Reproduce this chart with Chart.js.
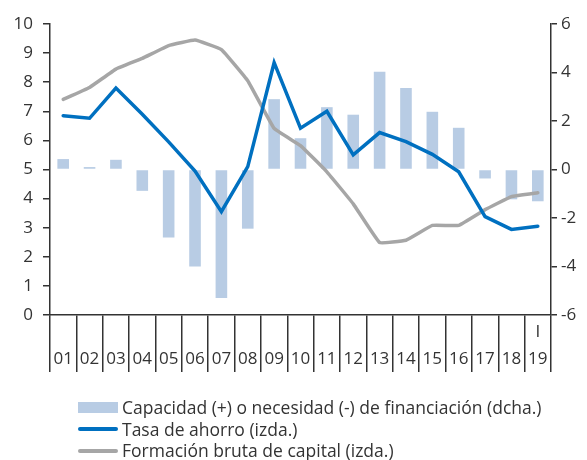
<!DOCTYPE html>
<html>
<head>
<meta charset="utf-8">
<script src="https://cdn.jsdelivr.net/npm/chart.js@4"></script>
<style>
  body { margin: 0; background: #fff; }
  #wrap { position: relative; width: 587px; height: 460px; }
  #legend { position: absolute; left: 78px; top: 397px; font-family: "Open Sans"; font-size: 17.5px; color: #333; }
  .row { height: 21.5px; line-height: 21.5px; display: flex; align-items: center; white-space: nowrap; }
  .sym { width: 40px; margin-right: 4px; }
  .box { height: 11px; background: rgb(184, 204, 228); }
  .line { height: 4px; border-radius: 2px; }
</style>
</head>
<body>
<div id="wrap">
  <canvas id="myChart" width="587" height="460"></canvas>
  <div id="legend"></div>
</div>
<script>
const years = ['01', '02', '03', '04', '05', '06', '07', '08', '09', '10',
               '11', '12', '13', '14', '15', '16', '17', '18', '19'];
const quarterLabel = 'I';

// dcha.
const capacidad = [0.43, 0.1, 0.4, -0.88, -2.8, -4.0, -5.3, -2.44, 2.9, 1.29,
                   2.57, 2.26, 4.03, 3.36, 2.38, 1.72, -0.37, -1.23, -1.31];
// izda.
const ahorro = [6.85, 6.76, 7.8, 6.9, 5.95, 4.95, 3.55, 5.1, 8.67, 6.42,
                7.0, 5.5, 6.27, 5.96, 5.52, 4.92, 3.38, 2.94, 3.05];
const formacion = [7.41, 7.82, 8.45, 8.82, 9.26, 9.45, 9.12, 8.05, 6.41, 5.82,
                   4.92, 3.82, 2.49, 2.57, 3.08, 3.08, 3.62, 4.07, 4.2];

const names = ['Capacidad (+) o necesidad (-) de financiación (dcha.)',
               'Tasa de ahorro (izda.)',
               'Formación bruta de capital (izda.)'];

const colors = {
    bar: 'rgb(184, 204, 228)',
    ahorro: 'rgb(0, 112, 192)',
    formacion: 'rgb(166, 166, 166)',
    axis: '#333'
};

const labels = years.map((y, i) => i === years.length - 1 ? [quarterLabel, y] : ['', y]);

const tickFont = { family: 'Open Sans', size: 17 };

function createChart() {
    const ctx = document.getElementById('myChart');

    const data = {
        labels: labels,
        datasets: [
            {
                type: 'line',
                label: names[1],
                data: ahorro,
                borderColor: colors.ahorro,
                borderWidth: 3.5,
                borderCapStyle: 'round',
                pointRadius: 0,
                tension: 0,
                yAxisID: 'y',
                order: 1
            },
            {
                type: 'line',
                label: names[2],
                data: formacion,
                borderColor: colors.formacion,
                borderWidth: 3.5,
                borderCapStyle: 'round',
                pointRadius: 0,
                tension: 0.08,
                yAxisID: 'y',
                order: 2
            },
            {
                type: 'bar',
                label: names[0],
                data: capacidad,
                backgroundColor: colors.bar,
                barPercentage: 0.44,
                categoryPercentage: 1,
                yAxisID: 'y2',
                order: 3
            }
        ]
    };

    const config = {
        type: 'bar',
        data: data,
        options: {
            responsive: false,
            animation: false,
            layout: {
                padding: { top: 24, bottom: 85, left: 0, right: 0 }
            },
            plugins: {
                legend: { display: false },
                tooltip: { enabled: false }
            },
            scales: {
                x: {
                    offset: true,
                    grid: {
                        offset: true,
                        drawOnChartArea: false,
                        tickLength: 57,
                        color: colors.axis,
                        lineWidth: 1.5
                    },
                    border: { color: colors.axis, width: 1.5 },
                    ticks: {
                        color: colors.axis,
                        font: { family: 'Open Sans', size: 17, lineHeight: 1.62 },
                        padding: -53.75,
                        maxRotation: 0,
                        autoSkip: false
                    },
                    afterFit: s => { s.height = 60; }
                },
                y: {
                    position: 'left',
                    min: 0,
                    max: 10,
                    ticks: {
                        stepSize: 1,
                        color: colors.axis,
                        font: tickFont,
                        padding: 10
                    },
                    grid: {
                        drawOnChartArea: false,
                        tickLength: 7,
                        color: colors.axis,
                        lineWidth: 1.5
                    },
                    border: { color: colors.axis, width: 1.5 },
                    afterFit: s => { s.width = 50; }
                },
                y2: {
                    position: 'right',
                    min: -6,
                    max: 6,
                    ticks: {
                        stepSize: 2,
                        color: colors.axis,
                        font: tickFont,
                        padding: 4
                    },
                    grid: {
                        drawOnChartArea: false,
                        tickLength: 6,
                        color: colors.axis,
                        lineWidth: 1.5
                    },
                    border: { color: colors.axis, width: 1.5 },
                    afterFit: s => { s.width = 36; }
                }
            }
        }
    };

    return new Chart(ctx, config);
}

function createLegend(chart) {
    const el = document.getElementById('legend');
    const items = [
        { text: names[0], cls: 'box', color: colors.bar },
        { text: names[1], cls: 'line', color: colors.ahorro },
        { text: names[2], cls: 'line', color: colors.formacion }
    ];
    items.forEach(it => {
        const row = document.createElement('div');
        row.className = 'row';
        const sym = document.createElement('span');
        sym.className = 'sym ' + it.cls;
        sym.style.background = it.color;
        const txt = document.createElement('span');
        txt.textContent = it.text;
        row.appendChild(sym);
        row.appendChild(txt);
        el.appendChild(row);
    });
}

const chart = createChart();
createLegend(chart);
</script>
</body>
</html>
